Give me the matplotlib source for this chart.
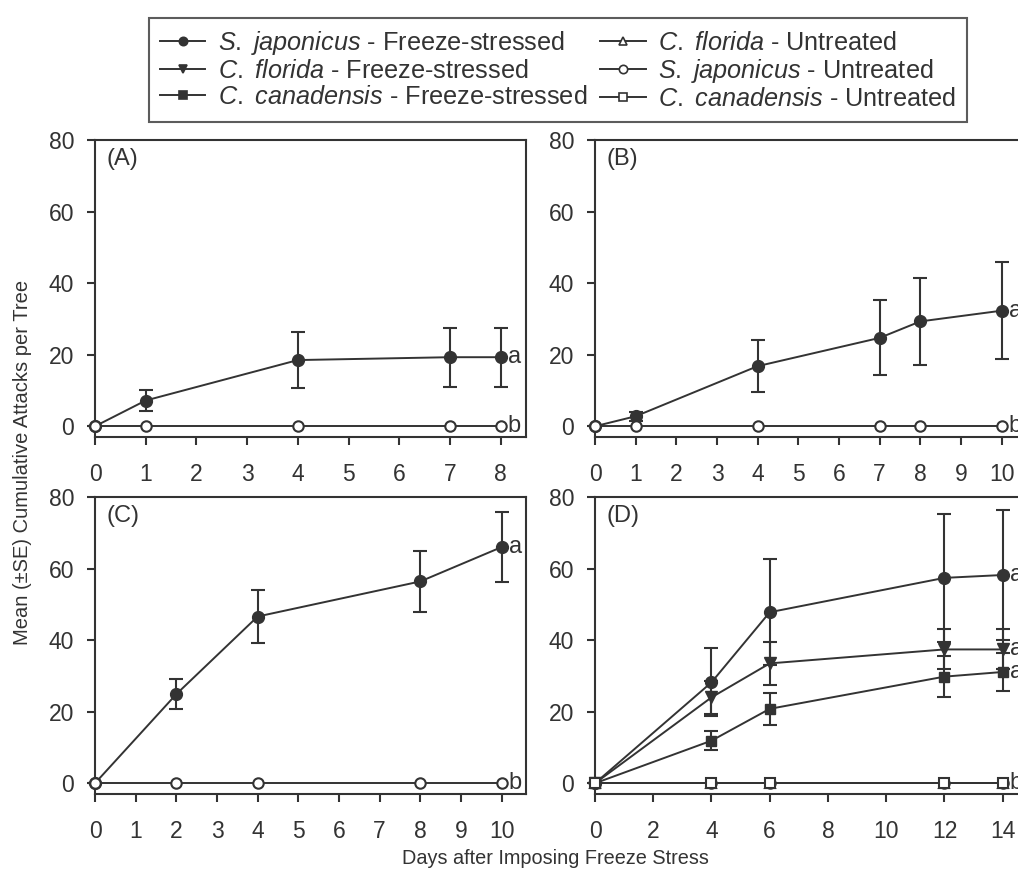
import matplotlib
matplotlib.use('Agg')
import matplotlib.pyplot as plt
from matplotlib.lines import Line2D

plt.rcParams['font.family'] = ['Liberation Sans', 'DejaVu Sans']
plt.rcParams['mathtext.fontset'] = 'custom'
plt.rcParams['mathtext.it'] = 'Liberation Sans:italic'
plt.rcParams['mathtext.rm'] = 'Liberation Sans'

INK = '#333333'

# panel A
days_a = [0, 1, 4, 7, 8]
sj_fs_a = [0, 7.2, 18.5, 19.3, 19.3]
sj_fs_a_se = [0, 3.0, 7.8, 8.2, 8.2]
sj_un_a = [0, 0, 0, 0, 0]

# panel B
days_b = [0, 1, 4, 7, 8, 10]
sj_fs_b = [0, 2.8, 16.8, 24.7, 29.3, 32.3]
sj_fs_b_se = [0, 1.2, 7.2, 10.5, 12.1, 13.6]
sj_un_b = [0, 0, 0, 0, 0, 0]

# panel C
days_c = [0, 2, 4, 8, 10]
sj_fs_c = [0, 24.9, 46.6, 56.4, 66.0]
sj_fs_c_se = [0, 4.2, 7.3, 8.5, 9.7]
sj_un_c = [0, 0, 0, 0, 0]

# panel D
days_d = [0, 4, 6, 12, 14]
sj_fs_d = [0, 28.2, 47.8, 57.4, 58.2]
sj_fs_d_se = [0, 9.5, 14.8, 17.9, 18.1]
cf_fs_d = [0, 24.0, 33.5, 37.4, 37.4]
cf_fs_d_se = [0, 4.6, 6.0, 5.6, 5.6]
cc_fs_d = [0, 11.9, 20.8, 29.8, 31.1]
cc_fs_d_se = [0, 2.6, 4.4, 5.8, 5.3]
sj_un_d = [0, 0, 0, 0, 0]
cf_un_d = [0, 0, 0, 0, 0]
cc_un_d = [0, 0, 0, 0, 0]

yticks = [0, 20, 40, 60, 80]

fig = plt.figure(figsize=(10.18, 8.73), dpi=100)

W = 431 / 1018
H = 297 / 873
ax_a = fig.add_axes([95 / 1018, 1 - 437 / 873, W, H])
ax_b = fig.add_axes([595 / 1018, 1 - 437 / 873, W, H])
ax_c = fig.add_axes([95 / 1018, 1 - 794 / 873, W, H])
ax_d = fig.add_axes([595 / 1018, 1 - 794 / 873, W, H])


def fs_line(ax, x, y, se, marker, ms=8.5):
    ax.errorbar(x, y, yerr=se, color=INK, lw=1.4, marker=marker, ms=ms,
                mfc=INK, mec=INK, capsize=4.8, capthick=1.5, elinewidth=1.5,
                zorder=3, clip_on=False)


def un_line(ax, x, y, marker, ms=7.5):
    ax.plot(x, y, color=INK, lw=1.4, marker=marker, ms=ms, mfc='white',
            mec=INK, mew=1.5, zorder=4, clip_on=False)


def letter(ax, x, y, s):
    ax.annotate(s, xy=(x, y), xytext=(5, 0), textcoords='offset points',
                va='center', ha='left', fontsize=17, color=INK,
                annotation_clip=False)


def style(ax, xmax, xticks, tag):
    ax.set_xlim(0, xmax)
    ax.set_ylim(-3, 80)
    ax.set_xticks(xticks)
    ax.set_yticks(yticks)
    ax.tick_params(direction='out', length=6, width=1.5, colors=INK,
                   labelsize=16.5)
    ax.tick_params(axis='x', pad=13)
    ax.tick_params(axis='y', pad=9)
    for sp in ax.spines.values():
        sp.set_color(INK)
        sp.set_linewidth(1.5)
    ax.annotate(tag, xy=(0, 1), xycoords='axes fraction', xytext=(8, -6),
                textcoords='offset points', va='top', ha='left',
                fontsize=17, color=INK)


fs_line(ax_a, days_a, sj_fs_a, sj_fs_a_se, 'o')
un_line(ax_a, days_a, sj_un_a, 'o')
letter(ax_a, days_a[-1], sj_fs_a[-1], 'a')
letter(ax_a, days_a[-1], sj_un_a[-1], 'b')
style(ax_a, 8.5, range(0, 9), '(A)')

fs_line(ax_b, days_b, sj_fs_b, sj_fs_b_se, 'o')
un_line(ax_b, days_b, sj_un_b, 'o')
letter(ax_b, days_b[-1], sj_fs_b[-1], 'a')
letter(ax_b, days_b[-1], sj_un_b[-1], 'b')
style(ax_b, 10.6, range(0, 11), '(B)')

fs_line(ax_c, days_c, sj_fs_c, sj_fs_c_se, 'o')
un_line(ax_c, days_c, sj_un_c, 'o')
letter(ax_c, days_c[-1], sj_fs_c[-1], 'a')
letter(ax_c, days_c[-1], sj_un_c[-1], 'b')
style(ax_c, 10.6, range(0, 11), '(C)')

fs_line(ax_d, days_d, sj_fs_d, sj_fs_d_se, 'o')
fs_line(ax_d, days_d, cf_fs_d, cf_fs_d_se, 'v', ms=8)
fs_line(ax_d, days_d, cc_fs_d, cc_fs_d_se, 's', ms=7.2)
un_line(ax_d, days_d, cf_un_d, '^')
un_line(ax_d, days_d, sj_un_d, 'o')
un_line(ax_d, days_d, cc_un_d, 's', ms=6.5)
letter(ax_d, days_d[-1], sj_fs_d[-1], 'a')
letter(ax_d, days_d[-1], cf_fs_d[-1], 'a')
letter(ax_d, days_d[-1], cc_fs_d[-1], 'a')
letter(ax_d, days_d[-1], cc_un_d[-1], 'b')
style(ax_d, 14.8, range(0, 15, 2), '(D)')


# legend proxies (smaller markers as in the original key)
def proxy(marker, filled):
    return Line2D([], [], color=INK, lw=1.4, marker=marker, ms=6,
                  mfc=INK if filled else 'white', mec=INK, mew=1.2)


handles = [proxy('o', True), proxy('v', True), proxy('s', True),
           proxy('^', False), proxy('o', False), proxy('s', False)]
labels = [r'$S.$ $japonicus$ - Freeze-stressed',
          r'$C.$ $florida$ - Freeze-stressed',
          r'$C.$ $canadensis$ - Freeze-stressed',
          r'$C.$ $florida$ - Untreated',
          r'$S.$ $japonicus$ - Untreated',
          r'$C.$ $canadensis$ - Untreated']
leg = fig.legend(handles, labels, ncol=2, loc='upper center',
                 bbox_to_anchor=(558 / 1018, 1 - 5 / 873), fontsize=18.2,
                 frameon=True, fancybox=False, edgecolor=INK,
                 handlelength=1.8, handletextpad=0.5, columnspacing=0.5,
                 labelspacing=0.08, borderpad=0.45, labelcolor=INK)
leg.get_frame().set_linewidth(1.5)

fig.text(23 / 1018, 0.47, 'Mean (\u00b1SE) Cumulative Attacks per Tree',
         rotation=90, va='center', ha='center', fontsize=14.5, color=INK)
fig.text(555 / 1018, 1 - 858 / 873, 'Days after Imposing Freeze Stress',
         va='center', ha='center', fontsize=14.3, color=INK)

fig.savefig('out.png', dpi=100, facecolor='white')
